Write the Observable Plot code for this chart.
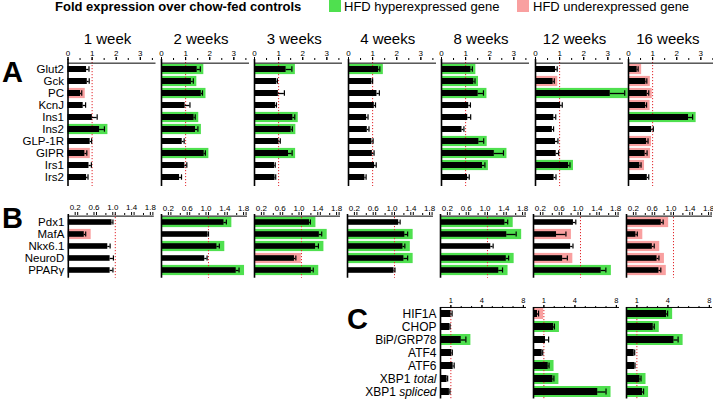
<!DOCTYPE html>
<html><head><meta charset="utf-8">
<script src="https://cdn.jsdelivr.net/npm/d3@7"></script>
<script src="https://cdn.jsdelivr.net/npm/@observablehq/plot@0.6"></script>
<style>
body{margin:0;background:#fff}
#root{position:relative;width:713px;height:400px;overflow:hidden;font-family:"Liberation Sans",Arial,sans-serif;color:#000;background:#fff}
.t{position:absolute;white-space:nowrap}
.p{position:absolute}
.sq{position:absolute;width:12px;height:12px}
</style></head><body><div id="root"></div>
<script>
// ---------------- data ----------------
const weeks = ["1 week","2 weeks","3 weeks","4 weeks","8 weeks","12 weeks","16 weeks"];
const weeksC = ["8 weeks","12 weeks","16 weeks"];

const genesA = ["Glut2","Gck","PC","KcnJ","Ins1","Ins2","GLP-1R","GIPR","Irs1","Irs2"];
const meanA = [
  [0.77,0.80,0.52,0.63,1.01,1.31,0.92,0.70,0.87,0.77],
  [1.48,1.24,1.65,0.98,1.35,1.41,0.86,1.77,0.97,0.75],
  [1.31,0.92,0.99,0.87,1.59,1.52,1.01,1.41,0.83,0.85],
  [1.25,0.97,1.18,1.07,0.75,0.78,0.97,0.99,1.08,0.68],
  [1.22,1.34,1.52,1.13,1.09,0.85,1.55,2.19,1.70,1.08],
  [0.83,0.73,3.10,1.04,0.76,0.70,0.83,0.86,1.37,0.77],
  [0.36,0.72,0.78,0.71,2.49,0.96,0.75,0.69,0.47,0.78]
];
const errA = [
  [0.10,0.08,0.05,0.10,0.20,0.20,0.06,0.08,0.10,0.06],
  [0.13,0.08,0.05,0.20,0.05,0.10,0.08,0.05,0.08,0.08],
  [0.24,0.03,0.25,0.04,0.08,0.05,0.06,0.15,0.03,0.03],
  [0.05,0.03,0.10,0.05,0.06,0.07,0.05,0.07,0.07,0.05],
  [0.06,0.05,0.22,0.07,0.12,0.08,0.20,0.38,0.10,0.07],
  [0.07,0.05,0.60,0.07,0.08,0.05,0.10,0.10,0.06,0.08],
  [0.04,0.04,0.06,0.04,0.17,0.07,0.06,0.08,0.05,0.06]
];
const sigA = [
  ["","","down","","","up","","down","",""],
  ["up","up","up","","up","up","","up","",""],
  ["up","","","","up","up","","up","",""],
  ["up","","","","","","","","",""],
  ["up","up","up","","","","up","up","up",""],
  ["","down","up","","","","","","up",""],
  ["down","down","down","down","up","","down","down","down",""]
];

const genesB = ["Pdx1","MafA","Nkx6.1","NeuroD","PPARγ"];
const meanB = [
  [0.93,0.34,0.84,0.89,0.89],
  [1.33,0.99,1.18,0.92,1.59],
  [1.17,1.38,1.30,0.85,1.21],
  [1.09,1.22,1.18,1.20,0.99],
  [1.37,1.41,1.07,1.40,1.24],
  [0.85,0.49,0.79,0.62,1.44],
  [0.74,0.20,0.55,0.65,0.69]
];
const errB = [
  [0.02,0.03,0.05,0.07,0.06],
  [0.05,0.01,0.05,0.05,0.06],
  [0.02,0.05,0.06,0.03,0.04],
  [0.03,0.06,0.04,0.08,0.02],
  [0.06,0.20,0.05,0.05,0.08],
  [0.05,0.20,0.05,0.10,0.10],
  [0.04,0.03,0.04,0.04,0.04]
];
const sigB = [
  ["","down","","",""],
  ["up","","up","","up"],
  ["up","up","up","down","up"],
  ["","up","up","up",""],
  ["up","up","","up","up"],
  ["","down","","down","up"],
  ["down","down","down","down","down"]
];

const genesC = ["HIF1A","CHOP","BiP/GRP78","ATF4","ATF6","XBP1 total","XBP1 spliced"];
const meanC = [
  [1.02,0.90,2.00,1.09,1.22,0.64,0.86],
  [0.39,1.94,1.16,0.84,1.42,1.87,6.20],
  [3.87,2.58,4.58,0.74,0.80,1.30,1.55]
];
const errC = [
  [0.10,0.02,0.45,0.05,0.10,0.05,0.05],
  [0.10,0.08,0.30,0.05,0.08,0.10,0.80],
  [0.10,0.10,0.40,0.05,0.02,0.10,0.10]
];
const sigC = [
  ["","","up","","","",""],
  ["down","up","","","up","up","up"],
  ["up","up","up","","","up","up"]
];

const ticksA = [0,1,2,3], minorA = [0.5,1.5,2.5,3.5];
const ticksB = [0.2,0.6,1.0,1.4,1.8], minorB = [0.4,0.8,1.2,1.6];
const ticksC = [1,4,8], minorC = [2,3,5,6,7];

const GREEN = "#4fe04f", PINK = "#f9a0a0", RED = "#e2262b";

// ---------------- layout helpers ----------------
const root = document.getElementById("root");
function txt(s, x, base, size, opts = {}) {
  const d = document.createElement("div");
  d.className = "t";
  d.textContent = s;
  d.style.left = x + "px";
  d.style.top = (base - 0.8465 * size) + "px";
  d.style.fontSize = size + "px";
  d.style.lineHeight = size + "px";
  if (opts.bold) d.style.fontWeight = "bold";
  if (opts.anchor === "middle") d.style.transform = "translateX(-50%)";
  root.appendChild(d);
}
function square(x, y, color) {
  const d = document.createElement("div");
  d.className = "sq";
  d.style.left = x + "px"; d.style.top = y + "px"; d.style.background = color;
  root.appendChild(d);
}

function panel(cfg) {
  const {genes, mean, err, sig, domain, major, minor, fmt, x0, bandTop, rowH, innerW, labels, labelML, labelFs, MT, pad, hi, bi, ci, fs, tdx = 0} = cfg;
  const data = genes.map((g, i) => ({gene: g, mean: mean[i], err: err[i], sig: sig[i]}));
  const MB = 2, MR = 8;
  const ML = labels ? labelML : 3;
  const H = MT + rowH * genes.length + MB;
  const W = ML + innerW + MR;
  const marks = [
    Plot.barX(data.filter(d => d.sig), {y: "gene", x1: () => 0, x2: d => d.mean + d.err,
      fill: d => d.sig === "up" ? GREEN : PINK, insetTop: hi, insetBottom: hi, insetRight: -pad}),
    Plot.ruleX([1], {stroke: RED, strokeDasharray: "1.2,1.8", strokeWidth: 1}),
    Plot.barX(data, {y: "gene", x1: () => 0, x2: "mean", fill: "#000", insetTop: bi, insetBottom: bi}),
    Plot.ruleY(data, {y: "gene", x1: "mean", x2: d => d.mean + d.err, stroke: "#000", strokeWidth: 1.3}),
    Plot.tickX(data, {y: "gene", x: d => d.mean + d.err, stroke: "#000", strokeWidth: 1.2, insetTop: ci, insetBottom: ci}),
    Plot.ruleX([0], {stroke: "#000", strokeWidth: 1.6}),
    Plot.ruleY([genes[0]], {dy: -rowH / 2, stroke: "#000", strokeWidth: 1}),
    Plot.axisX(minor, {anchor: "top", tickSize: 2, tickFormat: () => "", label: null}),
    Plot.axisX(major, {anchor: "top", tickSize: 3, text: null, label: null}),
    Plot.axisX(major, {anchor: "top", tickSize: 3, tickPadding: 1, fontSize: fs, tickFormat: fmt, label: null, dx: tdx, tick: null})
  ];
  if (labels) marks.push(Plot.axisY({anchor: "left", tickSize: 0, tickPadding: 4, fontSize: labelFs, label: null}));
  const svg = Plot.plot({
    width: W, height: H,
    marginLeft: ML, marginRight: MR, marginTop: MT, marginBottom: MB,
    style: {background: "none", fontFamily: "Liberation Sans, Arial, sans-serif", overflow: "visible", maxWidth: "none"},
    x: {domain, label: null},
    y: {domain: genes, padding: 0, label: null, ...(labels ? {} : {axis: null})},
    marks
  });
  // italic qualifiers (XBP1 total / spliced)
  svg.querySelectorAll("text").forEach(t => {
    const m = t.textContent.match(/^(XBP1) (total|spliced)$/);
    if (m) t.innerHTML = `${m[1]} <tspan font-style="italic">${m[2]}</tspan>`;
  });
  const wrap = document.createElement("div");
  wrap.className = "p";
  wrap.style.left = (x0 - ML) + "px";
  wrap.style.top = (bandTop - MT) + "px";
  wrap.appendChild(svg);
  root.appendChild(wrap);
}

// ---------------- headers ----------------
txt("Fold expression over chow-fed controls", 55, 10.5, 13, {bold: true});
square(329, 0, GREEN);
txt("HFD hyperexpressed gene", 344, 10.5, 13);
square(517, 0, PINK);
txt("HFD underexpressed gene", 533, 10.5, 13);

const colX = weeks.map((w, i) => 67.5 + i * 93.4);
const colXB = weeks.map((w, i) => 67.8 + i * 93);
weeks.forEach((w, i) => txt(w, colX[i] + 40, 43.3, 15, {anchor: "middle"}));

// ---------------- panels ----------------
weeks.forEach((w, i) => {
  panel({genes: genesA, mean: meanA[i], err: errA[i], sig: sigA[i], domain: [0, 3.65],
    major: ticksA, minor: minorA, fmt: d3.format("d"), x0: colX[i], bandTop: 58.7, rowH: 12.7,
    innerW: 88, labels: i === 0, labelML: 67.5, labelFs: 11.5, MT: 14, pad: 3.5, hi: 0.9, bi: 3, ci: 3.3, fs: 8});
  panel({genes: genesB, mean: meanB[i], err: errB[i], sig: sigB[i], domain: [0, 1.83],
    major: ticksB, minor: minorB, fmt: d3.format(".1f"), x0: colXB[i], bandTop: 213.6, rowH: 12.75,
    innerW: 86, labels: i === 0, labelML: 67.8, labelFs: 11.5, MT: 12, pad: 5.5, hi: 0.9, bi: 3.2, ci: 3.4, fs: 8, tdx: -2.5});
});
weeksC.forEach((w, j) => {
  panel({genes: genesC, mean: meanC[j], err: errC[j], sig: sigC[j], domain: [0, 8.3],
    major: ticksC, minor: minorC, fmt: d3.format("d"), x0: 439.5 + j * 93, bandTop: 306.7, rowH: 13.07,
    innerW: 86, labels: j === 0, labelML: 110, labelFs: 12, MT: 10, pad: 5, hi: 1, bi: 3, ci: 3.5, fs: 7.5});
});

txt("A", 2, 82.8, 29, {bold: true});
txt("B", 2, 228.3, 29, {bold: true});
txt("C", 347, 330, 29, {bold: true});
</script></body></html>
